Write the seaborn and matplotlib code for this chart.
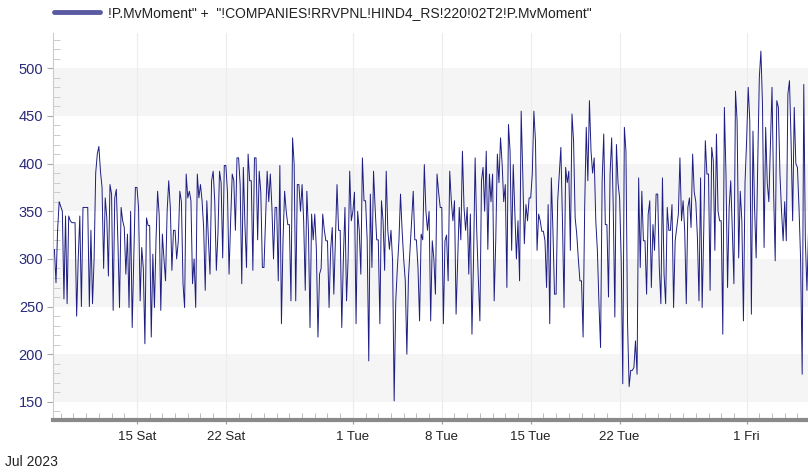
import pandas as pd
import matplotlib
matplotlib.use("Agg")
import matplotlib.pyplot as plt
import matplotlib.dates as mdates
import matplotlib.ticker as mticker
import seaborn as sns

series_name = '!P.MvMoment" +  "!COMPANIES!RRVPNL!HIND4_RS!220!02T2!P.MvMoment"'
start = "2023-07-08 12:00"
step = "3h"

# values, 8 samples per day (3 h), one list per week
week_jul08 = [310, 275, 330, 360,
              355, 350, 258, 345, 253, 345, 340, 338,
              338, 338, 240, 300, 345, 250, 354, 354,
              354, 354, 250, 330, 253, 300, 390, 410,
              418, 392, 375, 290, 364, 343, 282, 378,
              368, 246, 364, 373, 318, 249, 354, 340,
              333, 284, 326, 249, 350, 228, 300, 375]
week_jul15 = [375, 354, 256, 312, 290, 211, 343, 335,
              335, 218, 305, 249, 320, 371, 346, 246,
              326, 300, 277, 350, 382, 354, 288, 330,
              330, 300, 318, 371, 360, 274, 249, 389,
              364, 371, 361, 274, 300, 249, 389, 364,
              378, 361, 333, 267, 361, 320, 284, 382,
              392, 360, 288, 326, 392, 380, 301, 398]
week_jul22 = [398, 370, 284, 340, 389, 382, 330, 406,
              406, 378, 274, 396, 336, 291, 410, 382,
              382, 288, 406, 406, 320, 392, 370, 291,
              291, 340, 392, 360, 389, 354, 300, 354,
              354, 277, 398, 232, 320, 371, 350, 336,
              336, 256, 427, 400, 256, 378, 378, 350,
              378, 340, 267, 371, 330, 228, 347, 320]
week_jul29 = [347, 310, 218, 284, 290, 347, 330, 319,
              319, 249, 310, 333, 263, 320, 378, 330,
              330, 228, 300, 354, 256, 300, 392, 340,
              350, 370, 232, 350, 330, 284, 406, 361,
              361, 320, 193, 368, 291, 392, 354, 320,
              320, 232, 361, 340, 288, 392, 330, 310,
              330, 298, 151, 256, 290, 319, 368, 330]
week_aug05 = [300, 277, 200, 280, 309, 340, 371, 320,
              320, 291, 235, 326, 320, 399, 350, 330,
              350, 235, 319, 300, 263, 389, 370, 354,
              354, 232, 319, 325, 277, 392, 361, 340,
              361, 242, 300, 354, 320, 413, 354, 330,
              354, 284, 347, 221, 300, 406, 330, 280,
              235, 382, 396, 350, 413, 310, 389, 360]
week_aug12 = [389, 256, 320, 410, 380, 427, 400, 360,
              378, 270, 441, 413, 309, 399, 350, 300,
              340, 277, 455, 389, 316, 357, 340, 364,
              364, 389, 455, 424, 309, 347, 340, 329,
              329, 319, 270, 357, 232, 385, 330, 263,
              263, 361, 389, 417, 340, 249, 396, 380,
              392, 309, 452, 424, 343, 326, 300, 277]
week_aug19 = [277, 218, 354, 438, 382, 466, 413, 390,
              406, 340, 309, 253, 207, 382, 431, 336,
              336, 260, 389, 427, 354, 239, 420, 380,
              364, 300, 169, 438, 413, 232, 166, 183,
              183, 186, 214, 179, 385, 291, 371, 319,
              319, 263, 347, 361, 270, 336, 309, 368,
              368, 291, 253, 385, 284, 253, 354, 330]
week_aug26 = [330, 357, 249, 319, 333, 347, 406, 340,
              361, 330, 253, 354, 364, 333, 410, 370,
              360, 323, 256, 385, 249, 330, 424, 389,
              389, 267, 417, 403, 309, 431, 350, 340,
              340, 221, 459, 389, 270, 354, 382, 330,
              274, 476, 445, 301, 371, 340, 235, 380,
              424, 480, 445, 242, 434, 354, 301, 400]
week_sep02 = [490, 518, 462, 312, 438, 380, 360, 420,
              480, 371, 298, 466, 459, 389, 350, 319,
              360, 319, 473, 487, 424, 340, 459, 400,
              396, 354, 300, 179, 483, 319, 267, 330]

major_days = ["2023-07-15", "2023-07-22", "2023-08-01", "2023-08-08",
              "2023-08-15", "2023-08-22", "2023-09-01"]
major_labels = ["15 Sat", "22 Sat", "1 Tue", "8 Tue", "15 Tue", "22 Tue", "1 Fri"]
y_ticks = [150, 200, 250, 300, 350, 400, 450, 500]

values = (week_jul08 + week_jul15 + week_jul22 + week_jul29 + week_aug05
          + week_aug12 + week_aug19 + week_aug26 + week_sep02)
df = pd.DataFrame({"time": pd.date_range(start, periods=len(values), freq=step),
                   "value": values})

sns.set_style("white")
plt.rcParams["font.family"] = ["Liberation Sans", "DejaVu Sans"]

fig = plt.figure(figsize=(8.08, 4.76), dpi=100)
ax = fig.add_axes([53 / 808, 56 / 476, 755 / 808, 387 / 476])

# alternating background bands
for lo in y_ticks[::2]:
    ax.axhspan(lo, lo + 50, color="#f5f5f5", zorder=0, lw=0)

sns.lineplot(data=df, x="time", y="value", ax=ax, color="#1e1e82",
             linewidth=0.7, label=series_name, zorder=3)

ax.set_xlim(pd.Timestamp("2023-07-08 09:20"), pd.Timestamp("2023-09-05 20:00"))
ax.set_ylim(131, 537)
ax.set_xlabel("")
ax.set_ylabel("")

ax.set_xticks(mdates.date2num(pd.to_datetime(major_days)), major_labels)
ax.xaxis.set_minor_locator(mdates.DayLocator())
ax.tick_params(axis="x", which="major", direction="out", length=3, width=0.8,
               color="#999999", labelsize=9.5, labelcolor="#222222", pad=5)
ax.tick_params(axis="x", which="minor", direction="in", length=5, width=0.7,
               color="#bbbbbb")
ax.set_yticks(y_ticks)
ax.yaxis.set_minor_locator(mticker.MultipleLocator(10))
ax.tick_params(axis="y", which="major", direction="out", length=4, width=0.8,
               color="#aaaaaa", labelsize=10.5, labelcolor="#2a2a7a", pad=3)
ax.tick_params(axis="y", which="minor", direction="in", length=5, width=0.7,
               color="#cccccc")
ax.tick_params(bottom=True, left=True, which="both")

ax.grid(axis="x", which="major", color="#ececec", lw=0.8, zorder=1)
ax.grid(axis="y", visible=False)

for s in ["top", "right"]:
    ax.spines[s].set_visible(False)
ax.spines["left"].set_color("#cccccc")
ax.spines["left"].set_linewidth(0.8)
ax.spines["bottom"].set_color("#8a8a8a")
ax.spines["bottom"].set_linewidth(3)

leg = ax.legend(loc="center left", bbox_to_anchor=(54 / 808, 1 - 13 / 476),
                bbox_transform=fig.transFigure, frameon=False, fontsize=10,
                handlelength=3.3, handletextpad=0.6, borderpad=0, borderaxespad=0)
leg.get_lines()[0].set_linewidth(3.5)
leg.get_lines()[0].set_color("#5a5aa2")
for t in leg.get_texts():
    t.set_color("#222222")

fig.text(5 / 808, 1 - 462 / 476, "Jul 2023", fontsize=10, va="center", color="#222222")

fig.savefig("out.png", dpi=100)
